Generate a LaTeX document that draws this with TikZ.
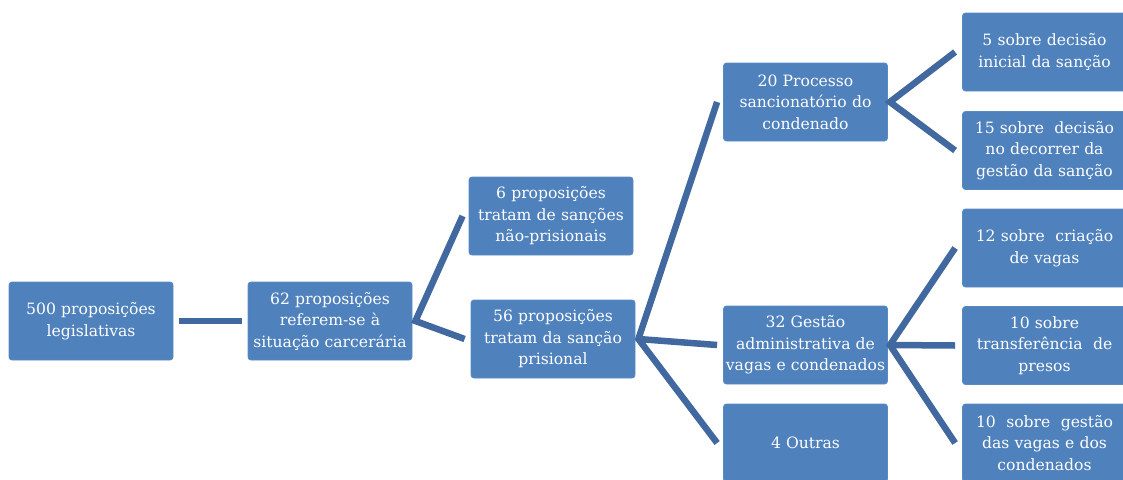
\documentclass[tikz,border=0pt]{standalone}
\usepackage{fontspec}
\setmainfont{DejaVu Serif}
\definecolor{boxblue}{HTML}{4F81BD}
\definecolor{boxedge}{HTML}{5A8AC4}
\definecolor{linkblue}{HTML}{41699F}
\tikzset{
  box/.style={fill=boxblue, draw=boxedge, line width=0.8pt, rounded corners=3pt,
    minimum width=164pt, minimum height=78pt, inner sep=1pt, text=white,
    text width=162pt, align=center, font=\fontsize{15.6}{21.5}\selectfont},
  conn/.style={draw=linkblue, line width=6.5pt, line join=miter, line cap=butt}
}
\begin{document}
\begin{tikzpicture}[x=1pt,y=-1pt]
\useasboundingbox (0,0) rectangle (1123,479);
\clip (0,0) rectangle (1123,479);
\node[box] (b500) at (91,321) {500 proposições\\legislativas};
\node[box] (b62) at (330,321) {62 proposições\\referem-se à\\situação carcerária};
\node[box] (b6) at (551,216) {6 proposições\\tratam de sanções\\não-prisionais};
\node[box] (b56) at (553,339) {56 proposições\\tratam da sanção\\prisional};
\node[box] (b20) at (805.5,102) {20 Processo\\sancionatório do\\condenado};
\node[box] (b32) at (805.5,345) {32 Gestão\\administrativa de\\vagas e condenados};
\node[box] (b4) at (805.5,443) {4 Outras};
\node[box] (b5) at (1044.5,52) {5 sobre decisão\\inicial da sanção};
\node[box] (b15) at (1044.5,150.5) {15 sobre \ decisão\\no decorrer da\\gestão da sanção};
\node[box] (b12) at (1044.5,248) {12 sobre \ criação\\de vagas};
\node[box] (b10t) at (1044.5,345.5) {10 sobre\\transferência \ de\\presos};
\node[box] (b10g) at (1044.5,443) {10 \ sobre \ gestão\\das vagas e dos\\condenados};
\coordinate (j62) at ([xshift=3pt]b62.east);
\coordinate (j56) at ([xshift=3pt]b56.east);
\coordinate (j20) at ([xshift=2pt]b20.east);
\coordinate (j32) at ([xshift=2pt]b32.east);
\draw[conn] ([xshift=6pt]b500.east) -- ([xshift=-6pt]b62.west);
\draw[conn] ([xshift=-6pt]b6.west) -- (j62) -- ([xshift=-6pt]b56.west);
\draw[conn] ([xshift=-6pt]b20.west) -- (j56) -- ([xshift=-6pt]b4.west);
\draw[conn] (j56) -- ([xshift=-6pt]b32.west);
\draw[conn] ([xshift=-7pt]b5.west) -- (j20) -- ([xshift=-7pt]b15.west);
\draw[conn] ([xshift=-7pt]b12.west) -- (j32) -- ([xshift=-7pt]b10g.west);
\draw[conn] (j32) -- ([xshift=-7pt]b10t.west);
\end{tikzpicture}
\end{document}
